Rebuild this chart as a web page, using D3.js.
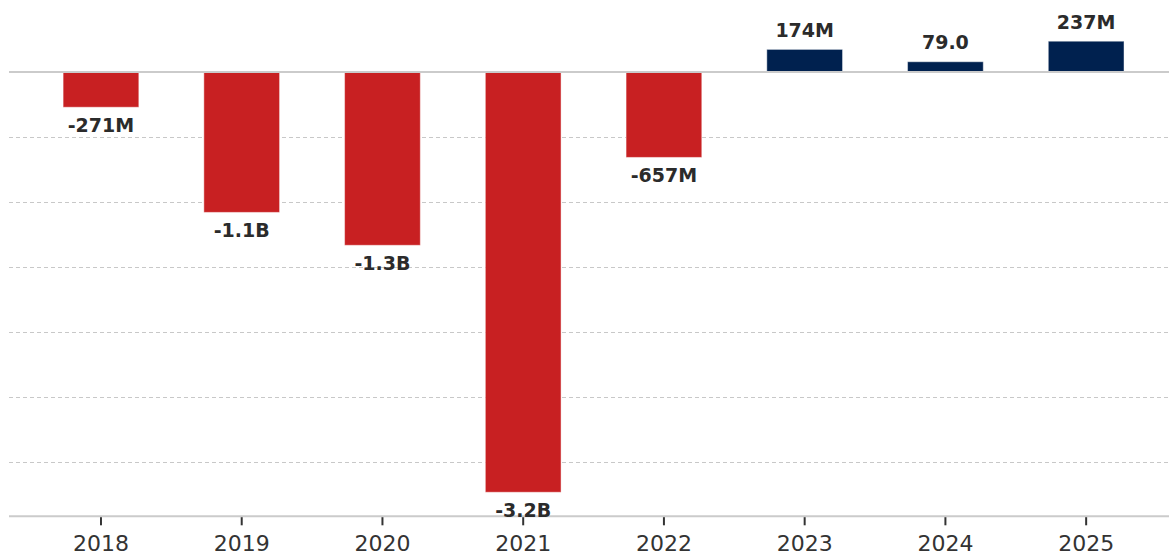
<!DOCTYPE html>
<html>
<head>
<meta charset="utf-8">
<script src="https://cdn.jsdelivr.net/npm/d3@7/dist/d3.min.js"></script>
<style>
  html, body { margin: 0; padding: 0; background: #fff; }
  svg { display: block; font-family: "DejaVu Sans", sans-serif; }
</style>
</head>
<body>
<svg id="chart" width="1169" height="557"></svg>
<script>
// Annual net income (USD)
const years = ["2018", "2019", "2020", "2021", "2022", "2023", "2024", "2025"];
const netIncome = [-271e6, -1.08e9, -1.333e9, -3.233e9, -657e6, 174e6, 79e6, 237e6];
const valueLabels = ["-271M", "-1.1B", "-1.3B", "-3.2B", "-657M", "174M", "79.0", "237M"];
const gridValues = [-0.5e9, -1.0e9, -1.5e9, -2.0e9, -2.5e9, -3.0e9];

const svg = d3.select("#chart");
const width = 1169;
const axisLeft = 9, axisRight = 1169;

const x = d3.scaleBand()
  .domain(years)
  .range([30.6, 30.6 + 140.74 * years.length])
  .paddingInner(0.462)
  .paddingOuter(0.231);

const y = d3.scaleLinear()
  .domain([-3.418e9, 0.554e9])
  .range([516.3, 0]);

// dashed gridlines
svg.append("g")
  .selectAll("line")
  .data(gridValues)
  .join("line")
  .attr("x1", axisLeft).attr("x2", axisRight)
  .attr("y1", d => Math.round(y(d)) + 0.5)
  .attr("y2", d => Math.round(y(d)) + 0.5)
  .attr("stroke", "#c8c8c8")
  .attr("stroke-width", 1)
  .attr("stroke-dasharray", "4,3");

// bars
svg.append("g")
  .selectAll("rect")
  .data(years.map((yr, i) => ({ yr, v: netIncome[i] })))
  .join("rect")
  .attr("x", d => x(d.yr))
  .attr("width", x.bandwidth())
  .attr("y", d => y(Math.max(0, d.v)))
  .attr("height", d => Math.abs(y(d.v) - y(0)))
  .attr("fill", d => d.v < 0 ? "#c82022" : "#00214f")
  .attr("stroke", "rgba(255,255,255,0.45)")
  .attr("stroke-width", 1);

// zero baseline
svg.append("line")
  .attr("x1", axisLeft).attr("x2", axisRight)
  .attr("y1", y(0)).attr("y2", y(0))
  .attr("stroke", "#cbcbcb")
  .attr("stroke-width", 2);

// bottom axis
const xAxis = svg.append("g")
  .attr("transform", `translate(0,${y.range()[0]})`)
  .call(d3.axisBottom(x).tickSize(9).tickPadding(10));
xAxis.select(".domain").remove();
xAxis.selectAll(".tick line")
  .attr("stroke", "#333")
  .attr("stroke-width", 2);
xAxis.selectAll(".tick text")
  .attr("fill", "#333")
  .attr("font-size", "22px")
  .attr("font-family", "DejaVu Sans, sans-serif");
svg.append("line")
  .attr("x1", axisLeft).attr("x2", axisRight)
  .attr("y1", y.range()[0]).attr("y2", y.range()[0])
  .attr("stroke", "#cbcbcb")
  .attr("stroke-width", 2);

// value labels
svg.append("g")
  .selectAll("text")
  .data(years.map((yr, i) => ({ yr, v: netIncome[i], t: valueLabels[i] })))
  .join("text")
  .attr("x", d => x(d.yr) + x.bandwidth() / 2)
  .attr("y", d => d.v < 0 ? y(d.v) + 25 : y(d.v) - 12.5)
  .attr("text-anchor", "middle")
  .attr("font-size", "19px")
  .attr("font-weight", "bold")
  .attr("fill", "#2b2b2b")
  .text(d => d.t);
</script>
</body>
</html>
